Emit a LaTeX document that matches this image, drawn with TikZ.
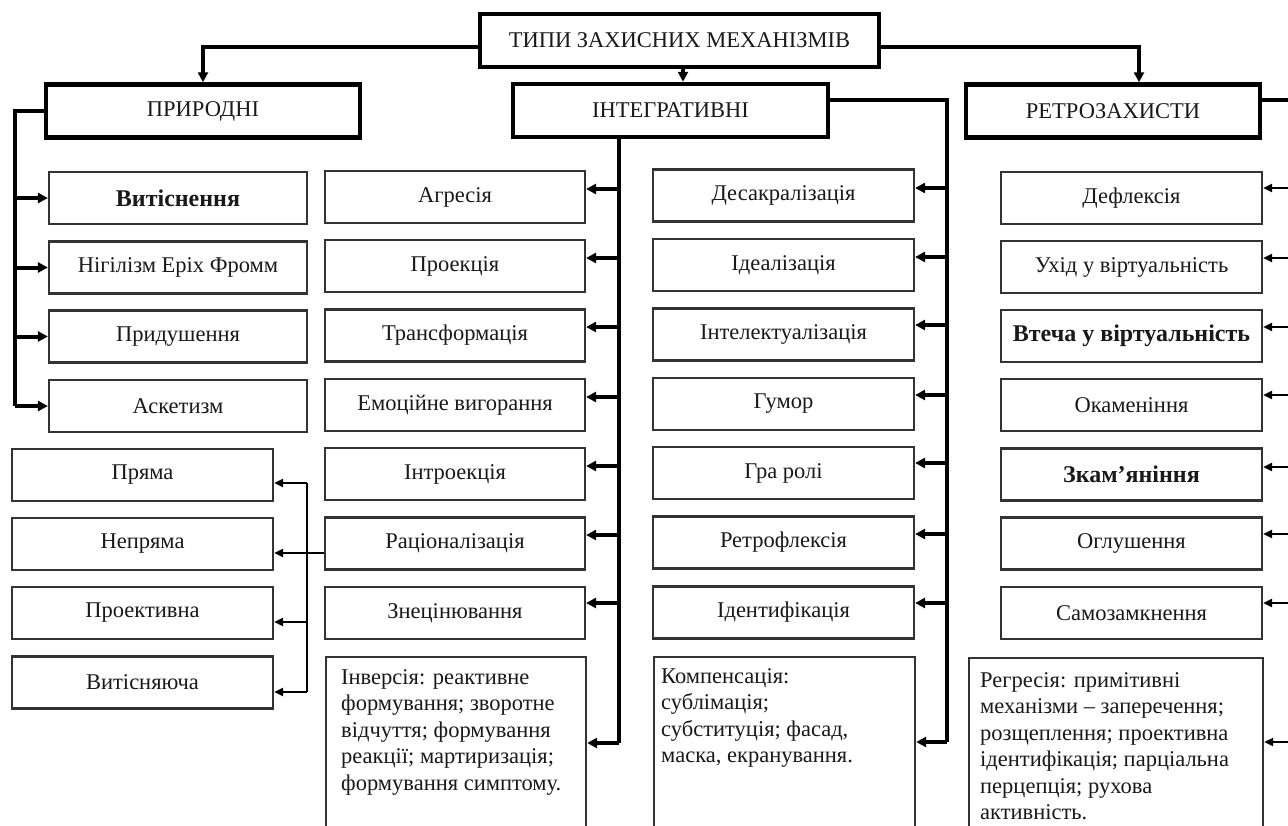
\documentclass[tikz,border=0pt]{standalone}
\usepackage{fontspec}
\setmainfont{Liberation Serif}
\usetikzlibrary{arrows.meta}
\begin{document}
\begin{tikzpicture}[x=1pt,y=-1pt,
  lbl/.style={font=\fontsize{22.5}{26.5}\selectfont, text=black!90},
  box/.style={lbl, draw=black!80, line width=2.2pt, rectangle, minimum height=52pt, inner sep=0pt, fill=white},
  c1/.style={box, minimum width=258pt},
  cw/.style={box, minimum width=261pt},
  bold/.style={font=\fontsize{24}{28}\selectfont\bfseries, text=black},
  head/.style={lbl, draw=black, line width=4.5pt, rectangle, minimum height=53pt, inner sep=0pt, fill=white},
  bigbox/.style={draw=black!80, line width=2.2pt, rectangle, anchor=north west, inner sep=0pt, minimum height=200pt},
  para/.style={lbl, align=left, anchor=north west, inner sep=0pt},
  bus/.style={line width=4.5pt, line join=miter},
  arr/.style={line width=4pt, -{Triangle[length=10pt,width=10pt]}},
  tarr/.style={line width=2.2pt, -{Triangle[length=9pt,width=8pt]}},
  tline/.style={line width=2.2pt},
]
\useasboundingbox (0,0) rectangle (1288,825);

% headers
\node[head, minimum width=399pt] (top) at (679.5,40.5) {ТИПИ ЗАХИСНИХ МЕХАНІЗМІВ};
\node[head, minimum width=314pt] (nat) at (203,111) {ПРИРОДНІ};
\node[head, minimum width=315pt] (integ) at (670.5,110.5) {ІНТЕГРАТИВНІ};
\node[head, minimum width=294pt] (retro) at (1113,111) {РЕТРОЗАХИСТИ};

% column 1 upper
\node[c1] (vyt) at (178,198) {\bfseries\fontsize{24}{28}\selectfont Витіснення};
\node[c1] (nih) at (178,267.5) {Нігілізм Еріх Фромм};
\node[c1] (prd) at (178,336.5) {Придушення};
\node[c1] (ask) at (178,406) {Аскетизм};

% column 1 lower
\node[cw] (pr) at (142.5,475) {Пряма};
\node[cw] (nepr) at (142.5,544) {Непряма};
\node[cw] (proek) at (142.5,613) {Проективна};
\node[cw] (vyts) at (142.5,682.5) {Витісняюча};

% column 2
\node[box, minimum width=260pt] (agr) at (455,197) {Агресія};
\node[box, minimum width=260pt] (proj) at (455,266) {Проекція};
\node[box, minimum width=260pt] (trans) at (455,335.5) {Трансформація};
\node[box, minimum width=260pt] (emo) at (455,405) {Емоційне вигорання};
\node[box, minimum width=260pt] (intro) at (455,474) {Інтроекція};
\node[box, minimum width=260pt] (rac) at (455,543.5) {Раціоналізація};
\node[box, minimum width=260pt] (znec) at (455,613) {Знецінювання};
\node[bigbox, minimum width=260pt] (inv) at (325,656) {};
\node[para] (invt) at (341,669) {Інверсія: реактивне\\формування; зворотне\\відчуття; формування\\реакції; мартиризація;\\формування симптому.};

% column 3
\node[cw] (desak) at (783.5,195.5) {Десакралізація};
\node[cw] (ideal) at (783.5,265) {Ідеалізація};
\node[cw] (intel) at (783.5,334.5) {Інтелектуалізація};
\node[cw] (gum) at (783.5,404) {Гумор};
\node[cw] (gra) at (783.5,473) {Гра ролі};
\node[cw] (retrof) at (783.5,542.5) {Ретрофлексія};
\node[cw] (ident) at (783.5,612.5) {Ідентифікація};
\node[bigbox, minimum width=261pt] (komp) at (653,656) {};
\node[para] (kompt) at (661,668) {Компенсація:\\сублімація;\\субституція; фасад,\\маска, екранування.};

% column 4
\node[cw] (defl) at (1131.5,198) {Дефлексія};
\node[cw] (uhid) at (1131.5,267) {Ухід у віртуальність};
\node[cw] (vtecha) at (1131.5,336) {\bfseries\fontsize{24}{28}\selectfont Втеча у віртуальність};
\node[cw] (okam) at (1131.5,405) {Окаменіння};
\node[cw] (zkam) at (1131.5,474.5) {\bfseries\fontsize{24}{28}\selectfont Зкам’яніння};
\node[cw] (oglush) at (1131.5,543.5) {Оглушення};
\node[cw] (samoz) at (1131.5,613) {Самозамкнення};
\node[bigbox, minimum width=294pt] (regr) at (968,657) {};
\node[para] (regrt) at (980,672) {Регресія: примітивні\\механізми – заперечення;\\розщеплення; проективна\\ідентифікація; парціальна\\перцепція; рухова\\активність.};

% top connectors
\draw[arr, line width=4.5pt] (top.west |- 0,47) -| (nat.north);
\draw[arr, line width=4.5pt] (top.east |- 0,47) -| (retro.north -| 1139,0);
\draw[arr] (top.south -| 683,0) -- (integ.north -| 683,0);

% column 1 bus
\coordinate (b1) at (15,406);
\draw[bus] (nat.west) -| (b1);
\foreach \n in {vyt,nih,prd,ask}
  \draw[arr] (b1 |- \n.west) -- (\n.west);

% column 1 lower bus
\coordinate (blt) at (307,483);
\coordinate (bl) at (307,692);
\draw[tline] (blt) -- (bl);
\draw[tarr] (blt) -- (pr.east |- blt);
\draw[tarr] (bl |- 0,622) -- (proek.east |- 0,622);
\draw[tarr] (bl) -- (vyts.east |- bl);
\draw[tarr] (rac.west |- 0,553) -- (nepr.east |- 0,553);

% column 2 bus
\coordinate (b2) at (619,743);
\draw[bus] (integ.south -| b2) -- (b2);
\foreach \n/\y in {agr/189,proj/258,trans/327,emo/397,intro/466,rac/535,znec/603}
  \draw[arr] (b2 |- 0,\y) -- (\n.east |- 0,\y);
\draw[arr] (b2) -- (inv.east |- b2);

% column 3 bus
\coordinate (b3) at (947,742);
\draw[bus] (integ.east |- 0,100) -| (b3);
\foreach \n/\y in {desak/188,ideal/257,intel/325,gum/395,gra/463,retrof/534,ident/603}
  \draw[arr] (b3 |- 0,\y) -- (\n.east |- 0,\y);
\draw[arr] (b3) -- (komp.east |- b3);

% column 4 bus (at the right edge)
\coordinate (b4) at (1292,742);
\draw[bus] (retro.east |- 0,100) -| (b4);
\foreach \n/\y in {defl/188,uhid/258,vtecha/327,okam/395,zkam/467,oglush/534,samoz/603}
  \draw[tarr] (b4 |- 0,\y) -- (\n.east |- 0,\y);
\draw[tarr] (b4) -- (regr.east |- b4);
\end{tikzpicture}
\end{document}
